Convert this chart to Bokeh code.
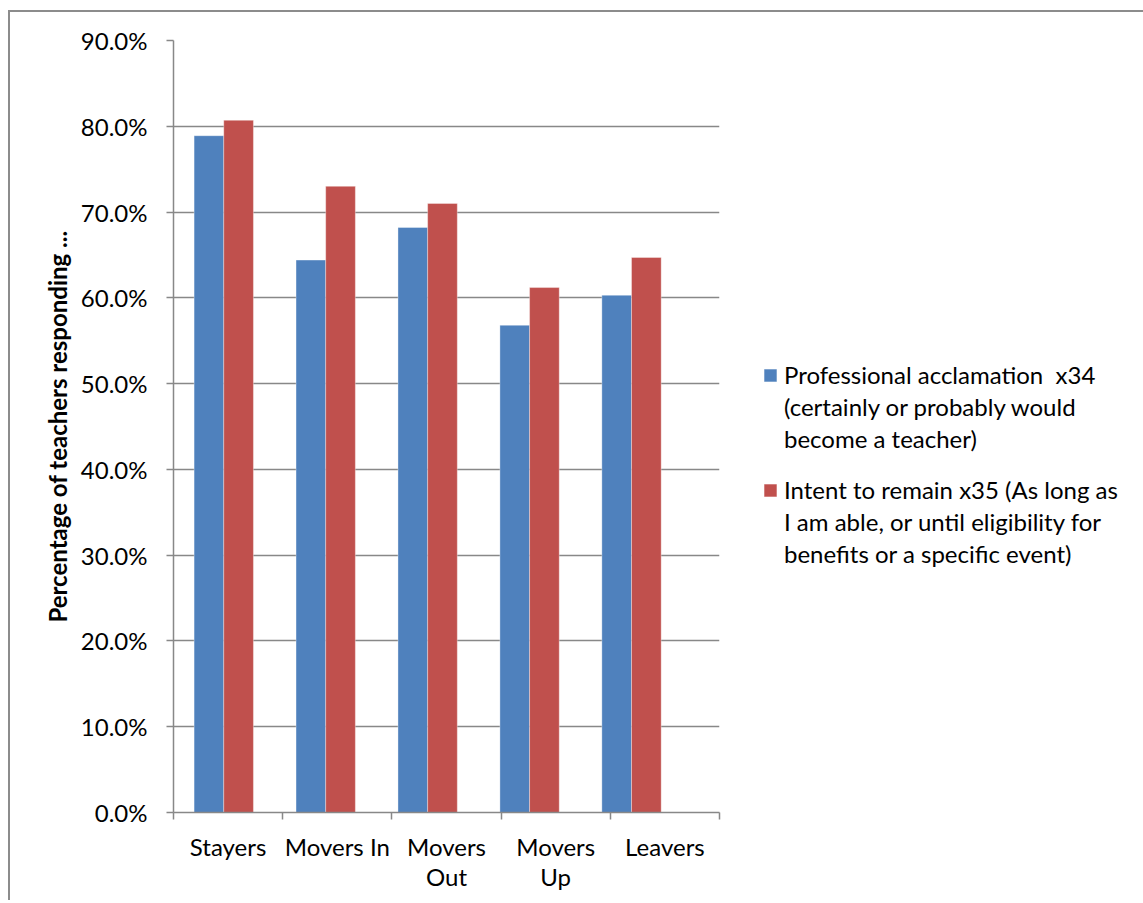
from bokeh.plotting import figure
from bokeh.models import (Range1d, LinearAxis, FixedTicker, NumeralTickFormatter,
                          Legend, LegendItem, ColumnDataSource)
from bokeh.embed import file_html
from bokeh.resources import INLINE

# ---- data ----
categories = ["Stayers", "Movers In", "Movers Out", "Movers Up", "Leavers"]
category_labels = ["Stayers", "Movers In", "Movers\nOut", "Movers\nUp", "Leavers"]
acclamation = [0.789, 0.644, 0.682, 0.568, 0.603]
intent = [0.807, 0.730, 0.710, 0.612, 0.647]
series_lines = [
    ["Professional acclamation  x34", "(certainly or probably would", "become a teacher)"],
    ["Intent to remain x35 (As long as", "I am able, or until eligibility for", "benefits or a specific event)"],
]
y_ticks = [0.0, 0.1, 0.2, 0.3, 0.4, 0.5, 0.6, 0.7, 0.8, 0.9]
y_title = "Percentage of teachers responding ..."

# ---- styles ----
BLUE = "#4F81BD"
RED = "#C0504D"
GRAY = "#888888"
FONT = "Lato"
BAR_W = 0.291

idx = list(range(len(categories)))
src = ColumnDataSource(dict(
    x_a=[i - BAR_W / 2 for i in idx],
    x_b=[i + BAR_W / 2 for i in idx],
    acclamation=acclamation,
    intent=intent,
    cat=categories,
))

p = figure(frame_width=546, frame_height=772, output_backend="svg", toolbar_location=None,
           x_range=Range1d(-0.493, 4.863), y_range=Range1d(0, 0.9),
           x_axis_location=None,
           min_border_left=163, min_border_top=28, min_border_bottom=88,
           min_border_right=30)
p.styles = {"border-left": "2px solid #8c8c8c", "border-top": "2px solid #8c8c8c",
            "margin-left": "8px", "margin-top": "10px"}
p.outline_line_color = None
p.background_fill_color = "white"
p.border_fill_color = "white"

r1 = p.vbar(x="x_a", top="acclamation", bottom=0, width=BAR_W, source=src,
            fill_color=BLUE, line_color="white", line_alpha=0.35, line_width=1)
r2 = p.vbar(x="x_b", top="intent", bottom=0, width=BAR_W, source=src,
            fill_color=RED, line_color="white", line_alpha=0.35, line_width=1)
# invisible renderer used for continuation lines of the legend labels
r_blank = p.vbar(x=[], top=[], width=BAR_W, fill_alpha=0, line_alpha=0)

# y axis
ya = p.yaxis[0]
ya.ticker = FixedTicker(ticks=y_ticks)
ya.formatter = NumeralTickFormatter(format="0.0%")
ya.axis_line_color = GRAY
ya.axis_line_width = 1.5
ya.major_tick_line_color = GRAY
ya.major_tick_line_width = 1.5
ya.major_tick_out = 7
ya.major_tick_in = 0
ya.minor_tick_line_color = None
ya.major_label_standoff = 19
ya.major_label_text_font = FONT
ya.major_label_text_font_size = "24px"
ya.major_label_text_color = "black"
ya.axis_label = y_title
ya.axis_label_text_font = FONT
ya.axis_label_text_font_style = "bold"
ya.axis_label_text_font_size = "24px"
ya.axis_label_text_color = "black"
ya.axis_label_standoff = 6

p.ygrid.ticker = FixedTicker(ticks=y_ticks)
p.ygrid.grid_line_color = GRAY
p.ygrid.grid_line_width = 1.5
p.xgrid.grid_line_color = None

# x (category) axis on its own range
p.extra_x_ranges = {"cats": Range1d(0, len(categories))}
xa = LinearAxis(x_range_name="cats")
xa.ticker = FixedTicker(ticks=[i + 0.5 for i in idx],
                        minor_ticks=list(range(len(categories) + 1)))
xa.major_label_overrides = {i + 0.5: lab for i, lab in zip(idx, category_labels)}
xa.axis_line_color = GRAY
xa.axis_line_width = 1.5
xa.major_tick_line_color = None
xa.major_tick_out = 0
xa.major_tick_in = 0
xa.minor_tick_line_color = GRAY
xa.minor_tick_line_width = 1.5
xa.minor_tick_out = 7
xa.minor_tick_in = 0
xa.major_label_standoff = 12
xa.major_label_text_font = FONT
xa.major_label_text_font_size = "24px"
xa.major_label_text_color = "black"
xa.major_label_text_line_height = 1.05
p.add_layout(xa, "below")

items = []
for k, (lines, rend) in enumerate(zip(series_lines, [r1, r2])):
    if k > 0:
        items.append(LegendItem(label="", renderers=[r_blank]))
    items.append(LegendItem(label=lines[0], renderers=[rend]))
    for ln in lines[1:]:
        items.append(LegendItem(label=ln, renderers=[r_blank]))

legend = Legend(items=items, location=(43, 244))
legend.border_line_color = None
legend.background_fill_alpha = 0
legend.glyph_width = 16
legend.glyph_height = 16
legend.label_height = 0
legend.label_standoff = 6
legend.spacing = 3
legend.padding = 0
legend.margin = 0
legend.label_text_font = FONT
legend.label_text_font_size = "24px"
legend.label_text_color = "black"
p.add_layout(legend, "right")

open("out.html", "w").write(file_html(p, INLINE))
